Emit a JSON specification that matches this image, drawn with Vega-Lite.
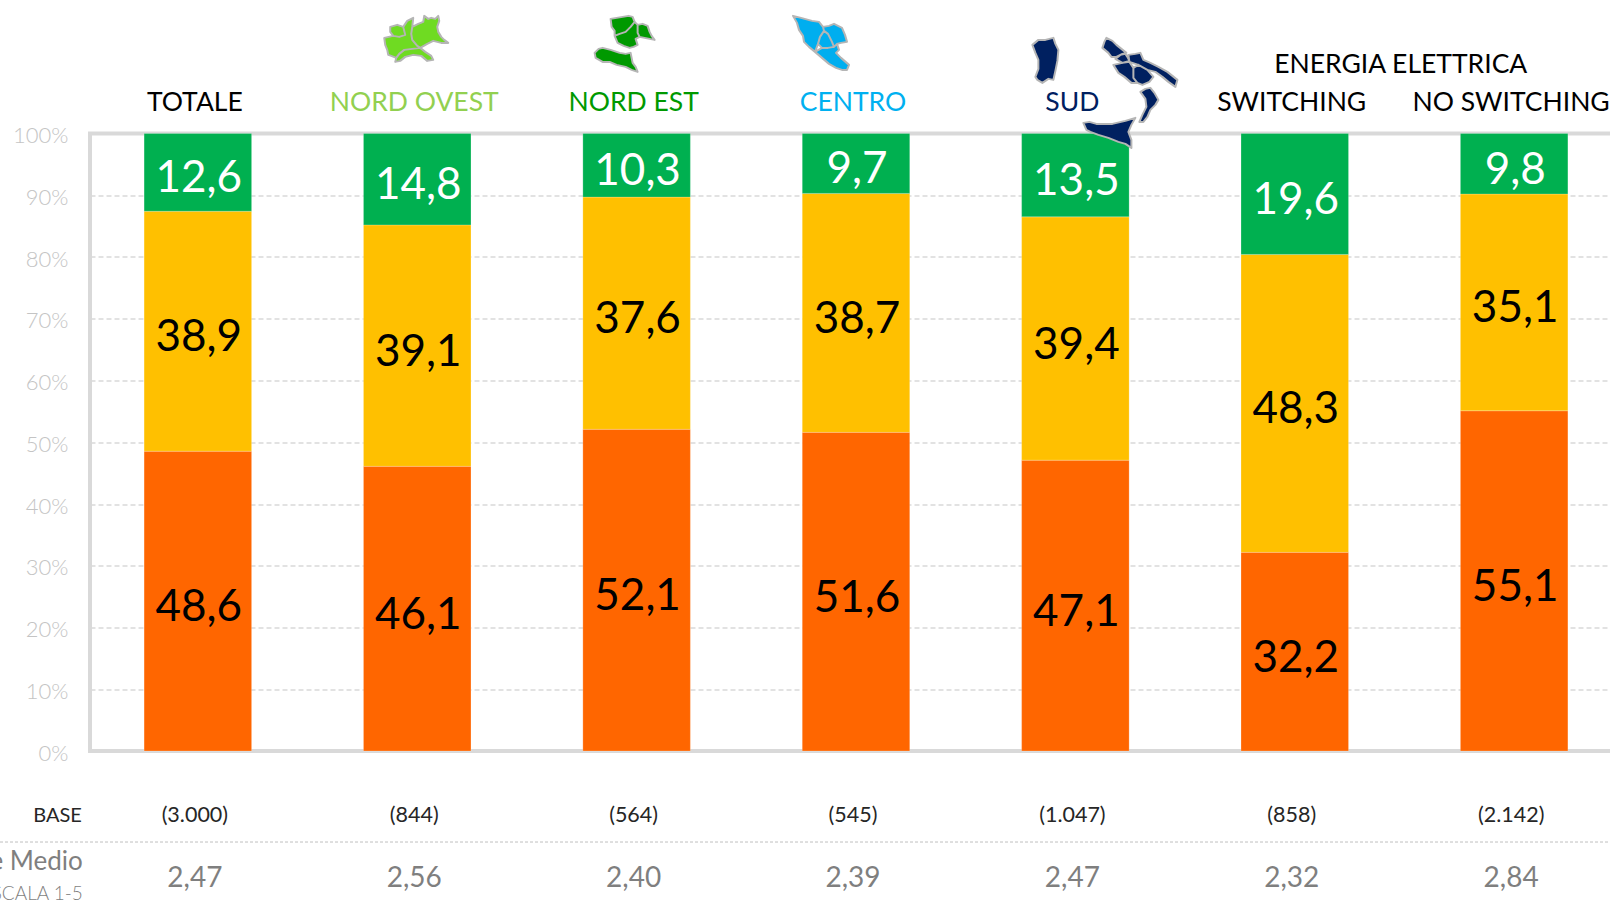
{
"$schema":"https://vega.github.io/schema/vega-lite/v6.json",
"autosize":{"type":"none"},
"padding":{"left":90,"top":133.5,"right":0,"bottom":151},
"width":1532,"height":617.5,
"background":"#ffffff",
"config":{"view":{"stroke":"#d9d9d9","strokeWidth":4},"font":"Lato","locale":{"number":{"decimal":",","thousands":".","grouping":[3],"currency":["€",""]}}},
"datasets":{
"bars":[
{"group":"TOTALE","segment":"A","order":1,"value":48.6},{"group":"TOTALE","segment":"B","order":2,"value":38.9},{"group":"TOTALE","segment":"C","order":3,"value":12.6},
{"group":"NORD OVEST","segment":"A","order":1,"value":46.1},{"group":"NORD OVEST","segment":"B","order":2,"value":39.1},{"group":"NORD OVEST","segment":"C","order":3,"value":14.8},
{"group":"NORD EST","segment":"A","order":1,"value":52.1},{"group":"NORD EST","segment":"B","order":2,"value":37.6},{"group":"NORD EST","segment":"C","order":3,"value":10.3},
{"group":"CENTRO","segment":"A","order":1,"value":51.6},{"group":"CENTRO","segment":"B","order":2,"value":38.7},{"group":"CENTRO","segment":"C","order":3,"value":9.7},
{"group":"SUD","segment":"A","order":1,"value":47.1},{"group":"SUD","segment":"B","order":2,"value":39.4},{"group":"SUD","segment":"C","order":3,"value":13.5},
{"group":"SWITCHING","segment":"A","order":1,"value":32.2},{"group":"SWITCHING","segment":"B","order":2,"value":48.3},{"group":"SWITCHING","segment":"C","order":3,"value":19.6},
{"group":"NO SWITCHING","segment":"A","order":1,"value":55.1},{"group":"NO SWITCHING","segment":"B","order":2,"value":35.1},{"group":"NO SWITCHING","segment":"C","order":3,"value":9.8}
],
"groups":[
{"group":"TOTALE","base":"(3.000)","media":2.47},
{"group":"NORD OVEST","base":"(844)","media":2.56},
{"group":"NORD EST","base":"(564)","media":2.40},
{"group":"CENTRO","base":"(545)","media":2.39},
{"group":"SUD","base":"(1.047)","media":2.47},
{"group":"SWITCHING","base":"(858)","media":2.32},
{"group":"NO SWITCHING","base":"(2.142)","media":2.84}
]
},
"resolve":{"scale":{"x":"independent"}},
"layer":[
{
"encoding":{
 "x":{"field":"group","type":"nominal","sort":["TOTALE","NORD OVEST","NORD EST","CENTRO","SUD","SWITCHING","NO SWITCHING"],
  "scale":{"paddingInner":0.51,"paddingOuter":0.2466},"axis":null}
},
"layer":[
 {"data":{"name":"bars"},
  "transform":[{"stack":"value","groupby":["group"],"sort":[{"field":"order"}],"offset":"normalize","as":["y0","y1"]},{"calculate":"(datum.y0+datum.y1)/2","as":"mid"}],
  "layer":[
  {"mark":{"type":"bar","stroke":"#ffffff","strokeOpacity":0.35,"strokeWidth":0.6},
   "encoding":{
    "y":{"field":"y0","type":"quantitative","scale":{"domain":[0,1],"nice":false,"zero":false},
     "axis":{"title":null,"values":[0,0.1,0.2,0.3,0.4,0.5,0.6,0.7,0.8,0.9,1],"format":".0%","domain":false,"ticks":false,"labelPadding":22,"labelOffset":2,"labelFontSize":22,"labelFont":"Lato","labelFontWeight":300,"labelColor":"#c4c4c4","grid":true,"gridColor":"#d9d9d9","gridDash":[5,3],"gridWidth":1.5}},
    "y2":{"field":"y1"},
    "color":{"field":"segment","type":"nominal","legend":null,"scale":{"domain":["A","B","C"],"range":["#FF6600","#FFC000","#00B050"]}}
   }},
  {"mark":{"type":"text","font":"Lato","fontSize":44,"baseline":"middle","align":"center","dy":7,"dx":1},
   "encoding":{
    "y":{"field":"mid","type":"quantitative"},
    "text":{"field":"value","type":"quantitative","format":".1f"},
    "color":{"field":"segment","type":"nominal","legend":null,"scale":{"domain":["A","B","C"],"range":["#000000","#000000","#ffffff"]}}
   }}
  ],
  "resolve":{"scale":{"color":"independent"}}
 },
 {"data":{"name":"groups"},
  "layer":[
  {"mark":{"type":"text","font":"Lato","fontSize":26.5,"baseline":"middle","align":"center","dx":-3,"dy":2,"clip":false},
   "encoding":{"y":{"datum":1.0526,"type":"quantitative"},"text":{"field":"group"},
    "color":{"field":"group","type":"nominal","legend":null,"scale":{"domain":["TOTALE","NORD OVEST","NORD EST","CENTRO","SUD","SWITCHING","NO SWITCHING"],"range":["#000000","#92D050","#009900","#00B0F0","#002060","#000000","#000000"]}}}},
  {"mark":{"type":"text","font":"Lato","fontSize":21.5,"baseline":"middle","align":"center","dx":-3,"dy":1,"color":"#262626"},
   "encoding":{"y":{"datum":-0.1036,"type":"quantitative"},"text":{"field":"base"}}},
  {"mark":{"type":"text","font":"Lato","fontSize":28,"baseline":"middle","align":"center","dx":-3,"dy":2,"color":"#7f7f7f"},
   "encoding":{"y":{"datum":-0.204,"type":"quantitative"},"text":{"field":"media","type":"quantitative","format":".2f"}}}
  ]
 },
 {"data":{"values":[{"group":"SWITCHING","t":"ENERGIA ELETTRICA"}]},
  "mark":{"type":"text","font":"Lato","fontSize":26.5,"baseline":"middle","align":"center","dx":106,"dy":2,"color":"#000000"},
  "encoding":{"y":{"datum":1.1134,"type":"quantitative"},"text":{"field":"t"}}},
 {"data":{"values":[{"group":"TOTALE","t":"BASE"}]},
  "mark":{"type":"text","font":"Lato","fontSize":20,"baseline":"middle","align":"right","dx":-116,"dy":1,"color":"#262626"},
  "encoding":{"y":{"datum":-0.1036,"type":"quantitative"},"text":{"field":"t"}}},
 {"data":{"values":[{"group":"TOTALE","t":"Valore Medio"}]},
  "mark":{"type":"text","font":"Lato","fontSize":26,"baseline":"middle","align":"right","dx":-115,"dy":2,"color":"#7f7f7f"},
  "encoding":{"y":{"datum":-0.1765,"type":"quantitative"},"text":{"field":"t"}}},
 {"data":{"values":[{"group":"TOTALE","t":"SCALA 1-5"}]},
  "mark":{"type":"text","font":"Lato","fontSize":19,"fontWeight":300,"baseline":"middle","align":"right","dx":-115,"color":"#7f7f7f"},
  "encoding":{"y":{"datum":-0.2316,"type":"quantitative"},"text":{"field":"t"}}},
 {"data":{"values":[{"group":"NORD OVEST"}]},
  "mark":{"type":"point","filled":true,"size":4,"opacity":1,"fill":"#6FDB22","stroke":"#b5b5b5","strokeWidth":2,"strokeOpacity":1,"strokeJoin":"round","clip":false,
   "shape":"M-27 -14L-20 -16L-14 -14L-12 -6L-18 -4L-24 -5L-27 -9ZM-33 -3L-24 -5L-18 -4L-12 -6L-14 -14L-10 -20L-4 -23L-5 -14L-6 -7L-5 -1L0 5L3 7L-5 8L-13 9L-18 13L-21 17L-26 15L-29 14L-30 9L-32 4ZM-5 -14L1 -17L6 -19L7 -25L11 -22L14 -23L18 -22L21 -25L22 -20L20 -14L21 -9L24 -4L27 -1L31 2L24 2L16 0L10 3L3 7L0 5L-5 -1L-6 -7ZM-22 21L-21 17L-18 13L-13 9L-5 8L3 7L8 11L14 15L16 19L10 20L4 15L-4 14L-12 16L-17 20Z"},
  "encoding":{"y":{"datum":1.15,"type":"quantitative"}}},
 {"data":{"values":[{"group":"NORD EST"}]},
  "mark":{"type":"point","filled":true,"size":4,"opacity":1,"fill":"#009900","stroke":"#b5b5b5","strokeWidth":2,"strokeOpacity":1,"strokeJoin":"round","clip":false,
   "shape":"M-26 -22L-20 -23L-14 -24L-8 -25L-4 -24L-2 -19L-6 -14L-11 -9L-17 -7L-22 -5L-22 -10L-25 -14ZM1 -16L6 -17L11 -15L13 -9L15 -5L18 -1L13 -2L8 -3L3 -4L1 -8ZM-2 -19L1 -16L1 -8L3 -4L-1 -2L1 4L-3 6L-7 7L-13 5L-19 2L-22 -5L-17 -7L-11 -9L-6 -14ZM-42 12L-38 8L-34 7L-26 9L-17 12L-11 13L-6 12L-5 17L-4 22L-1 26L1 31L-5 29L-11 26L-20 24L-27 21L-34 21L-41 17Z"},
  "encoding":{"y":{"datum":1.15,"type":"quantitative"}}},
 {"data":{"values":[{"group":"CENTRO"}]},
  "mark":{"type":"point","filled":true,"size":4,"opacity":1,"fill":"#00AEEF","stroke":"#b5b5b5","strokeWidth":2,"strokeOpacity":1,"strokeJoin":"round","clip":false,
   "shape":"M-63 -25L-55 -23L-44 -20L-37 -19L-33 -14L-32 -10L-36 -4L-38 3L-41 11L-47 6L-52 1L-53 -5L-57 -11L-59 -18ZM-32 -10L-28 -7L-24 1L-22 6L-28 7L-34 7L-38 3L-36 -4ZM-33 -14L-27 -15L-22 -17L-14 -13L-11 -6L-9 1L-15 2L-19 3L-22 6L-24 1L-28 -7L-32 -10ZM-41 11L-34 7L-28 7L-22 6L-19 3L-17 9L-20 12L-15 17L-7 24L-9 29L-14 29L-20 27L-27 23L-34 17Z"},
  "encoding":{"y":{"datum":1.15,"type":"quantitative"}}},
 {"data":{"values":[{"group":"SUD"}]},
  "mark":{"type":"point","filled":true,"size":4,"opacity":1,"fill":"#002060","stroke":"#b5b5b5","strokeWidth":2,"strokeOpacity":1,"strokeJoin":"round","clip":false,
   "shape":"M-43 4L-37 -1L-30 -1L-22 -3L-20 3L-17 9L-18 20L-20 30L-22 39L-27 38L-33 42L-38 39L-40 36L-37 28L-37 19L-40 12ZM27 7L29 1L31 -3L37 0L41 4L46 8L51 12L47 13L41 16L36 16L33 12ZM40 18L45 14L50 13L52 16L54 20L47 22ZM53 14L60 13L65 12L68 19L75 22L83 26L92 31L102 39L100 46L93 41L87 36L80 31L72 29L63 24L54 21ZM38 24L47 22L54 21L58 27L58 37L62 42L56 42L49 36L43 32ZM58 27L63 24L72 29L78 36L74 41L67 44L62 42L58 37ZM65 51L70 48L75 47L79 52L83 59L80 64L75 69L72 76L68 81L64 81L67 74L71 66L70 58ZM8 82L14 81L21 83L30 83L37 83L50 80L60 77L56 84L53 91L56 99L56 107L50 103L43 101L33 97L23 94L15 91L11 89Z"},
  "encoding":{"y":{"datum":1.15,"type":"quantitative"}}}
]
},
{"data":{"values":[{"a":0,"b":1}]},
 "mark":{"type":"rule","stroke":"#bfbfbf","strokeWidth":1,"strokeDash":[3,2],"clip":false},
 "encoding":{
  "x":{"field":"a","type":"quantitative","axis":null,"scale":{"domain":[0,1],"range":[-90,1532]}},
  "x2":{"field":"b"},
  "y":{"datum":-0.1474,"type":"quantitative"}
 }}
]
}
